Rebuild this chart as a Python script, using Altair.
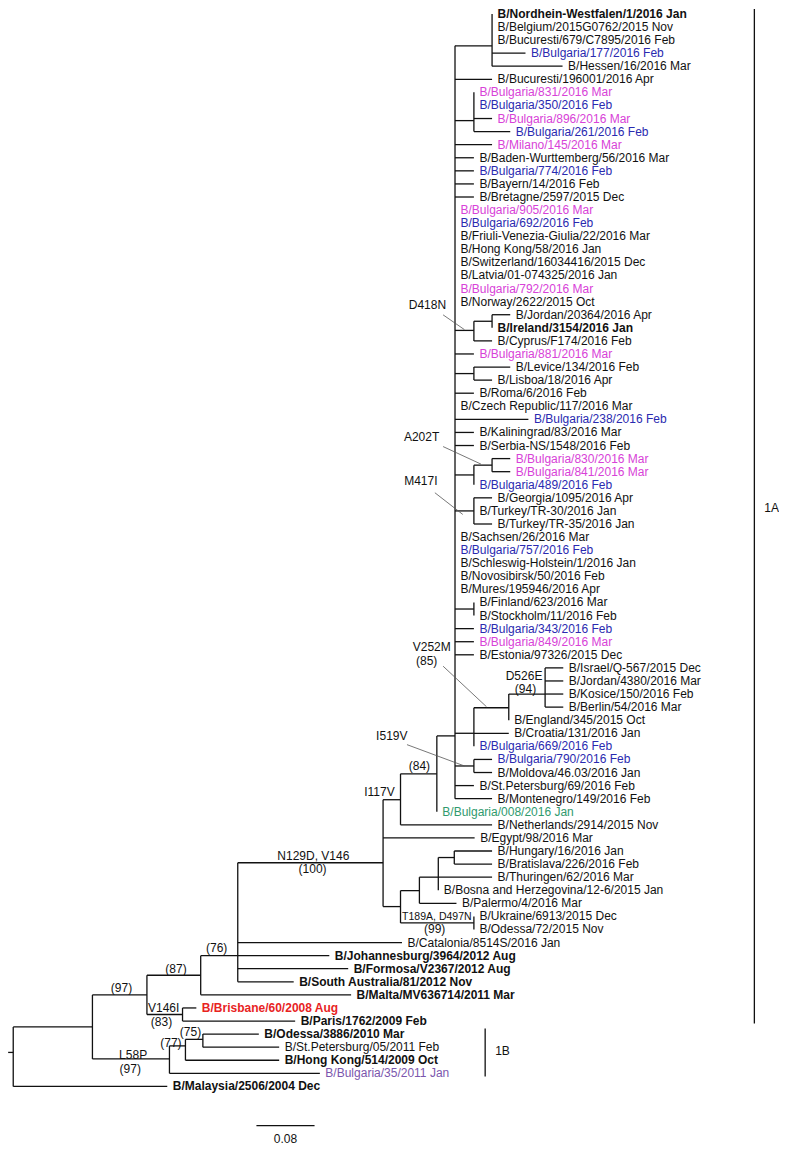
import altair as alt
import pandas as pd

# ---------------- leaves (top to bottom) ----------------
leaf_names = [
    "B/Nordhein-Westfalen/1/2016 Jan", "B/Belgium/2015G0762/2015 Nov", "B/Bucuresti/679/C7895/2016 Feb",
    "B/Bulgaria/177/2016 Feb", "B/Hessen/16/2016 Mar", "B/Bucuresti/196001/2016 Apr",
    "B/Bulgaria/831/2016 Mar", "B/Bulgaria/350/2016 Feb", "B/Bulgaria/896/2016 Mar", "B/Bulgaria/261/2016 Feb",
    "B/Milano/145/2016 Mar", "B/Baden-Wurttemberg/56/2016 Mar", "B/Bulgaria/774/2016 Feb", "B/Bayern/14/2016 Feb",
    "B/Bretagne/2597/2015 Dec", "B/Bulgaria/905/2016 Mar", "B/Bulgaria/692/2016 Feb",
    "B/Friuli-Venezia-Giulia/22/2016 Mar", "B/Hong Kong/58/2016 Jan", "B/Switzerland/16034416/2015 Dec",
    "B/Latvia/01-074325/2016 Jan", "B/Bulgaria/792/2016 Mar", "B/Norway/2622/2015 Oct",
    "B/Jordan/20364/2016 Apr", "B/Ireland/3154/2016 Jan", "B/Cyprus/F174/2016 Feb", "B/Bulgaria/881/2016 Mar",
    "B/Levice/134/2016 Feb", "B/Lisboa/18/2016 Apr", "B/Roma/6/2016 Feb", "B/Czech Republic/117/2016 Mar",
    "B/Bulgaria/238/2016 Feb", "B/Kaliningrad/83/2016 Mar", "B/Serbia-NS/1548/2016 Feb",
    "B/Bulgaria/830/2016 Mar", "B/Bulgaria/841/2016 Mar", "B/Bulgaria/489/2016 Feb",
    "B/Georgia/1095/2016 Apr", "B/Turkey/TR-30/2016 Jan", "B/Turkey/TR-35/2016 Jan",
    "B/Sachsen/26/2016 Mar", "B/Bulgaria/757/2016 Feb", "B/Schleswig-Holstein/1/2016 Jan",
    "B/Novosibirsk/50/2016 Feb", "B/Mures/195946/2016 Apr", "B/Finland/623/2016 Mar", "B/Stockholm/11/2016 Feb",
    "B/Bulgaria/343/2016 Feb", "B/Bulgaria/849/2016 Mar", "B/Estonia/97326/2015 Dec",
    "B/Israel/Q-567/2015 Dec", "B/Jordan/4380/2016 Mar", "B/Kosice/150/2016 Feb", "B/Berlin/54/2016 Mar",
    "B/England/345/2015 Oct", "B/Croatia/131/2016 Jan", "B/Bulgaria/669/2016 Feb", "B/Bulgaria/790/2016 Feb",
    "B/Moldova/46.03/2016 Jan", "B/St.Petersburg/69/2016 Feb", "B/Montenegro/149/2016 Feb",
    "B/Bulgaria/008/2016 Jan", "B/Netherlands/2914/2015 Nov", "B/Egypt/98/2016 Mar",
    "B/Hungary/16/2016 Jan", "B/Bratislava/226/2016 Feb", "B/Thuringen/62/2016 Mar",
    "B/Bosna and Herzegovina/12-6/2015 Jan", "B/Palermo/4/2016 Mar", "B/Ukraine/6913/2015 Dec",
    "B/Odessa/72/2015 Nov", "B/Catalonia/8514S/2016 Jan", "B/Johannesburg/3964/2012 Aug",
    "B/Formosa/V2367/2012 Aug", "B/South Australia/81/2012 Nov", "B/Malta/MV636714/2011 Mar",
    "B/Brisbane/60/2008 Aug", "B/Paris/1762/2009 Feb", "B/Odessa/3886/2010 Mar", "B/St.Petersburg/05/2011 Feb",
    "B/Hong Kong/514/2009 Oct", "B/Bulgaria/35/2011 Jan", "B/Malaysia/2506/2004 Dec",
]
leaf_group = [
    "k", "k", "k", "b", "k", "k", "m", "b", "m", "b",
    "m", "k", "b", "k", "k", "m", "b", "k", "k", "k",
    "k", "m", "k", "k", "k", "k", "m", "k", "k", "k",
    "k", "b", "k", "k", "m", "m", "b", "k", "k", "k",
    "k", "b", "k", "k", "k", "k", "k", "b", "m", "k",
    "k", "k", "k", "k", "k", "k", "b", "b", "k", "k",
    "k", "g", "k", "k", "k", "k", "k", "k", "k", "k",
    "k", "k", "k", "k", "k", "k", "r", "k", "k", "k",
    "k", "p", "k",
]
leaf_bold = [0, 24, 72, 73, 74, 75, 76, 77, 78, 80, 82]
leaf_parent = [
    "Q1", "Q1", "Q1", "Q1", "Q1", "P", "Q2", "Q2", "Q2", "Q2",
    "P", "P", "P", "P", "P", "P", "P", "P", "P", "P",
    "P", "P", "P", "J", "J", "D418N", "P", "K", "K", "P",
    "P", "P", "P", "P", "L", "L", "A202T", "M417I", "M417I", "M417I",
    "P", "P", "P", "P", "P", "F", "F", "P", "P", "P",
    "DE", "DE", "DE", "DE", "E", "V", "V", "I5", "I5", "P",
    "P", "N84", "I117V", "N129D", "H3", "H3", "H2", "H2", "H", "T189A",
    "T189A", "D", "D", "D", "D", "C", "V146I", "V146I", "N75", "N75",
    "N77", "L58P", "root",
]
# distance from root (substitutions/site) of each tip
leaf_tip = [
    0.659, 0.659, 0.659, 0.705, 0.756, 0.659, 0.634, 0.634, 0.659, 0.684,
    0.659, 0.634, 0.634, 0.634, 0.634, 0.608, 0.608, 0.608, 0.608, 0.608,
    0.608, 0.608, 0.608, 0.684, 0.659, 0.659, 0.634, 0.684, 0.659, 0.634,
    0.608, 0.709, 0.634, 0.634, 0.684, 0.684, 0.634, 0.659, 0.634, 0.659,
    0.608, 0.608, 0.608, 0.608, 0.608, 0.634, 0.634, 0.634, 0.634, 0.634,
    0.757, 0.757, 0.757, 0.757, 0.682, 0.682, 0.634, 0.659, 0.659, 0.634,
    0.659, 0.583, 0.659, 0.635, 0.659, 0.659, 0.659, 0.585, 0.610, 0.634,
    0.634, 0.535, 0.435, 0.461, 0.386, 0.465, 0.252, 0.388, 0.338, 0.366,
    0.366, 0.422, 0.212,
]

# ---------------- internal nodes ----------------
node_ids = ["root", "A", "B", "C", "V146I", "D", "N129D", "I117V", "N84", "P",
            "Q1", "Q2", "D418N", "J", "K", "A202T", "L", "M417I", "F", "V",
            "E", "DE", "I5", "T", "H", "H2", "H3", "T189A", "L58P", "N77", "N75"]
node_parent = [None, "root", "A", "B", "B", "C", "D", "N129D", "I117V", "N84",
               "P", "P", "P", "D418N", "P", "P", "A202T", "P", "P", "P",
               "V", "E", "P", "N129D", "T", "H", "H2", "T", "A", "L58P", "N77"]
node_x = [0.0, 0.109, 0.184, 0.258, 0.233, 0.309, 0.509, 0.533, 0.583, 0.608,
          0.659, 0.634, 0.634, 0.659, 0.634, 0.634, 0.659, 0.634, 0.634, 0.634,
          0.682, 0.732, 0.634, 0.533, 0.559, 0.585, 0.607, 0.634, 0.215, 0.237, 0.261]
node_row = [79.4, 77.45, 75.0, 73.5, 76.5, 72.0, 64.9, 60.08, 58.1, 55.2,
            2.44, 8.16, 24.2, 23.5, 27.5, 35.25, 34.5, 38.0, 45.5, 55.0,
            53.05, 52.0, 57.5, 68.25, 67.03, 66.0, 64.5, 69.5, 79.9, 78.9, 78.4]
root_stub = -0.007

# ---------------- annotations ----------------
ann_text = ["D418N", "A202T", "M417I", "V252M", "(85)", "D526E", "(94)", "I519V", "(84)", "I117V",
            "N129D, V146", "(100)", "(99)", "(76)", "(87)", "(97)", "V146I", "(83)", "(75)", "(77)",
            "L58P", "(97)"]
ann_x = [0.570, 0.562, 0.561, 0.576, 0.569, 0.703, 0.705, 0.521, 0.559, 0.504,
         0.413, 0.412, 0.580, 0.280, 0.224, 0.149, 0.207, 0.204, 0.244, 0.217,
         0.165, 0.161]
ann_row = [22.26, 32.33, 35.73, 48.41, 49.47, 50.6, 51.59, 55.21, 57.48, 59.52,
           64.35, 65.41, 69.94, 71.43, 73.04, 74.47, 75.98, 77.09, 77.87, 78.7,
           79.61, 80.66]
small_text = ["T189A, D497N"]
small_x = [0.583]
small_row = [69.01]

ptr_x1 = [0.5916, 0.5916, 0.5803, 0.5916, 0.5419]
ptr_r1 = [23.01, 33.08, 36.61, 49.87, 55.87]
ptr_x2 = [0.6210, 0.6437, 0.6187, 0.6513, 0.6210]
ptr_r2 = [24.14, 34.42, 38.27, 52.97, 57.50]

clade_names = ["1A", "1B"]
clade_x = [1.020, 0.6495]
clade_top = [-0.38, 77.57]
clade_bottom = [77.19, 81.25]
clade_label_row = [37.8, 79.3]

scale_len = 0.08
scale_start = 0.3347
scale_row = 85.0
scale_label_row = 86.05

# ---------------- build tables ----------------
pos = {n: (x, r) for n, x, r in zip(node_ids, node_x, node_row)}
segs = []
kids = {n: [] for n in node_ids}
for n, p, x, r in zip(node_ids, node_parent, node_x, node_row):
    if p is not None:
        segs.append(dict(x=pos[p][0], x2=x, y=r, y2=r))
        kids[p].append(r)
for i, (p, t) in enumerate(zip(leaf_parent, leaf_tip)):
    kids[p].append(i)
    if t > pos[p][0] + 1e-9:
        segs.append(dict(x=pos[p][0], x2=t, y=i, y2=i))
for n in node_ids:
    ys_ = kids[n] + [pos[n][1]]
    segs.append(dict(x=pos[n][0], x2=pos[n][0], y=min(ys_), y2=max(ys_)))
segs.append(dict(x=root_stub, x2=0.0, y=pos["root"][1], y2=pos["root"][1]))
for cx, ct, cb in zip(clade_x, clade_top, clade_bottom):
    segs.append(dict(x=cx, x2=cx, y=ct, y2=cb))
segs.append(dict(x=scale_start, x2=scale_start + scale_len, y=scale_row, y2=scale_row))
seg_df = pd.DataFrame(segs)

leaf_df = pd.DataFrame(dict(name=leaf_names, grp=leaf_group, x=leaf_tip, y=list(range(len(leaf_names)))))
leaf_df["bold"] = [i in leaf_bold for i in range(len(leaf_names))]

ann_df = pd.DataFrame(dict(t=ann_text, x=ann_x, y=ann_row))
small_df = pd.DataFrame(dict(t=small_text, x=small_x, y=small_row))
ptr_df = pd.DataFrame(dict(x=ptr_x1, x2=ptr_x2, y=ptr_r1, y2=ptr_r2))
clade_df = pd.DataFrame(dict(t=clade_names, x=clade_x, y=clade_label_row))
sb_df = pd.DataFrame(dict(t=[f"{scale_len:.2f}"], x=[scale_start + scale_len / 2], y=[scale_label_row]))

# ---------------- chart ----------------
W, H = 771, 1142
xs = alt.Scale(domain=[-0.0072, 1.0539], nice=False, zero=False)
ys = alt.Scale(domain=[-0.45, 86.86], nice=False, zero=False, reverse=True)
X = lambda f="x": alt.X(f"{f}:Q", scale=xs, axis=None)
Y = lambda f="y": alt.Y(f"{f}:Q", scale=ys, axis=None)
FONT = "Liberation Sans"

cscale = alt.Scale(domain=["k", "b", "m", "g", "r", "p"],
                   range=["#111111", "#2a2ab0", "#d842d8", "#2f9a6e", "#e8231f", "#7b56ad"])

branches = alt.Chart(seg_df).mark_rule(color="#111111", strokeWidth=1.3).encode(
    x=X(), x2="x2:Q", y=Y(), y2="y2:Q")
pointers = alt.Chart(ptr_df).mark_rule(color="#555555", strokeWidth=0.8).encode(
    x=X(), x2="x2:Q", y=Y(), y2="y2:Q")

def leaf_layer(bold):
    return alt.Chart(leaf_df[leaf_df["bold"] == bold]).mark_text(
        align="left", baseline="middle", dx=5.5, font=FONT, fontSize=12,
        fontWeight="bold" if bold else "normal").encode(
        x=X(), y=Y(), text="name:N", color=alt.Color("grp:N", scale=cscale, legend=None))

ann = alt.Chart(ann_df).mark_text(align="center", baseline="middle", font=FONT, fontSize=12,
                                  color="#111111").encode(x=X(), y=Y(), text="t:N")
small = alt.Chart(small_df).mark_text(align="center", baseline="middle", font=FONT, fontSize=10.5,
                                      color="#111111").encode(x=X(), y=Y(), text="t:N")
clade = alt.Chart(clade_df).mark_text(align="left", baseline="middle", dx=10, font=FONT, fontSize=12,
                                      color="#111111").encode(x=X(), y=Y(), text="t:N")
sb = alt.Chart(sb_df).mark_text(align="center", baseline="middle", font=FONT, fontSize=12,
                                color="#111111").encode(x=X(), y=Y(), text="t:N")

chart = alt.layer(branches, pointers, leaf_layer(False), leaf_layer(True), ann, small, clade, sb).properties(
    width=W, height=H, padding=0, autosize=alt.AutoSizeParams(type="none")
).configure_view(stroke=None)

chart.save("out.html", embed_options={"renderer": "svg", "actions": False})
